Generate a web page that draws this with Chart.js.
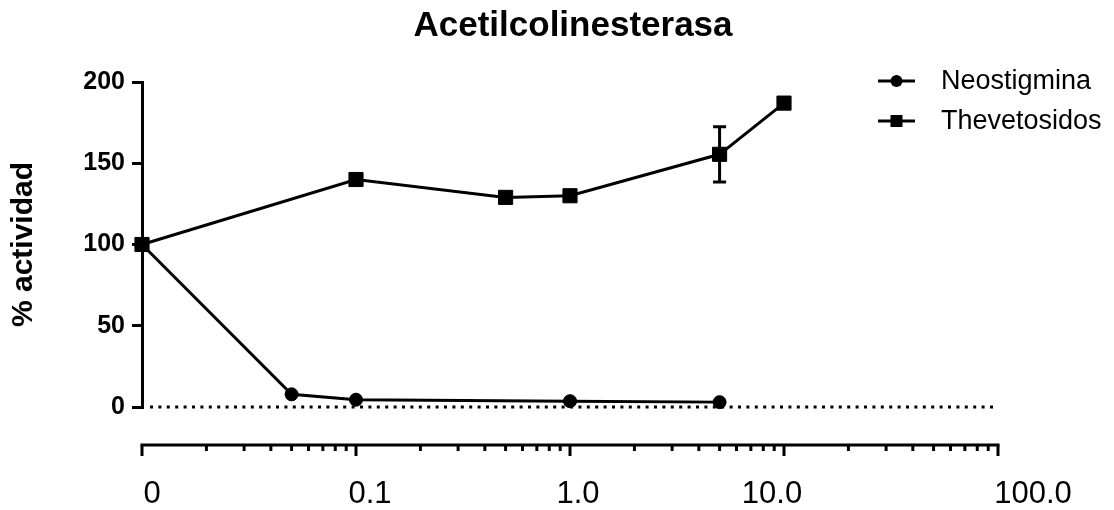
<!DOCTYPE html>
<html>
<head>
<meta charset="utf-8">
<script src="https://cdn.jsdelivr.net/npm/chart.js@4.4.1/dist/chart.umd.min.js"></script>
<style>
body { margin: 0; background: #fff; }
#wrap { width: 1114px; height: 510px; position: relative; }
</style>
</head>
<body>
<div id="wrap"><canvas id="myChart"></canvas></div>
<script>
// data
var chartTitle = 'Acetilcolinesterasa';
var yTitle = '% actividad';
var seriesNames = ['Neostigmina', 'Thevetosidos'];
var neoDose = [0.01, 0.05, 0.1, 1, 5];
var neoActividad = [100, 7.8, 4.5, 3.6, 3.0];
var theDose = [0.01, 0.1, 0.5, 1, 5, 10];
var theActividad = [100, 140, 129, 130, 155.5, 187];
var theError = [0, 0, 0, 0, 17, 0];
var xTicks = [0.01, 0.1, 1, 10, 100];
var xTickLabels = ['0', '0.1', '1.0', '10.0', '100.0'];
var yTicks = [0, 50, 100, 150, 200];

var FONT = "'Liberation Sans', Arial, sans-serif";

function toPoints(xs, ys) {
  var out = [];
  for (var i = 0; i < xs.length; i++) out.push({x: xs[i], y: ys[i]});
  return out;
}

var extras = {
  id: 'extras',
  beforeDatasetsDraw: function(chart) {
    var ctx = chart.ctx, xs = chart.scales.x, ys = chart.scales.y;
    // dotted line at y = 0
    ctx.save();
    ctx.strokeStyle = '#000';
    ctx.lineWidth = 3;
    ctx.setLineDash([3, 5.4]);
    ctx.beginPath();
    ctx.moveTo(xs.getPixelForValue(0.01) + 8, ys.getPixelForValue(0));
    ctx.lineTo(xs.getPixelForValue(100) - 2, ys.getPixelForValue(0));
    ctx.stroke();
    ctx.restore();
  },
  afterDatasetsDraw: function(chart) {
    var ctx = chart.ctx, xs = chart.scales.x, ys = chart.scales.y;
    ctx.save();
    ctx.strokeStyle = '#000';
    ctx.fillStyle = '#000';
    ctx.lineWidth = 3;

    // error bars
    for (var i = 0; i < theDose.length; i++) {
      if (!theError[i]) continue;
      var px = xs.getPixelForValue(theDose[i]);
      var top = ys.getPixelForValue(theActividad[i] + theError[i]);
      var bot = ys.getPixelForValue(theActividad[i] - theError[i]);
      ctx.beginPath();
      ctx.moveTo(px, top); ctx.lineTo(px, bot);
      ctx.moveTo(px - 6.5, top); ctx.lineTo(px + 6.5, top);
      ctx.moveTo(px - 6.5, bot); ctx.lineTo(px + 6.5, bot);
      ctx.stroke();
    }

    // detached x axis with log ticks
    var axisY = ys.getPixelForValue(0) + 38;
    var x0 = xs.getPixelForValue(0.01), x1 = xs.getPixelForValue(100);
    ctx.beginPath();
    ctx.moveTo(x0 - 1.5, axisY); ctx.lineTo(x1 + 1.5, axisY);
    ctx.stroke();
    for (var d = 0.01; d <= 100.001; d *= 10) {
      var mx = xs.getPixelForValue(d);
      ctx.beginPath(); ctx.moveTo(mx, axisY); ctx.lineTo(mx, axisY + 11); ctx.stroke();
      if (d < 99) {
        for (var m = 2; m <= 9; m++) {
          var tx = xs.getPixelForValue(d * m);
          ctx.beginPath(); ctx.moveTo(tx, axisY); ctx.lineTo(tx, axisY + 6); ctx.stroke();
        }
      }
    }

    // x tick labels (prism places them a bit irregularly)
    var labelShift = [10, 14, 8, -12, 35];
    ctx.font = '31px ' + FONT;
    ctx.textAlign = 'center';
    ctx.textBaseline = 'middle';
    for (var t = 0; t < xTicks.length; t++) {
      ctx.fillText(xTickLabels[t], xs.getPixelForValue(xTicks[t]) + labelShift[t], axisY + 49);
    }

    // title
    ctx.font = 'bold 35px ' + FONT;
    ctx.fillText(chartTitle, 573, 26);

    // legend
    ctx.font = '27px ' + FONT;
    ctx.textAlign = 'left';
    var rows = [81, 121];
    for (var k = 0; k < 2; k++) {
      var ly = rows[k];
      ctx.beginPath(); ctx.moveTo(878, ly); ctx.lineTo(915, ly); ctx.stroke();
      if (k === 0) {
        ctx.beginPath(); ctx.arc(896.5, ly, 6, 0, Math.PI * 2); ctx.fill();
      } else {
        ctx.fillRect(896.5 - 6, ly - 6, 12, 12);
      }
      ctx.fillText(seriesNames[k], 941, ly + 1);
    }
    ctx.restore();
  }
};

var chartdata = {
  datasets: [
    {
      label: seriesNames[0],
      data: toPoints(neoDose, neoActividad),
      showLine: true,
      borderColor: '#000',
      backgroundColor: '#000',
      borderWidth: 3,
      pointStyle: 'circle',
      pointRadius: 6.5,
      pointBorderWidth: 1,
      clip: false
    },
    {
      label: seriesNames[1],
      data: toPoints(theDose, theActividad),
      showLine: true,
      borderColor: '#000',
      backgroundColor: '#000',
      borderWidth: 3,
      pointStyle: 'rect',
      pointRadius: 10,
      pointBorderWidth: 1,
      clip: false
    }
  ]
};

var options = {
  responsive: true,
  maintainAspectRatio: false,
  animation: false,
  layout: { padding: { top: 82, right: 116, left: 0, bottom: 0 } },
  plugins: {
    legend: { display: false },
    title: { display: false },
    tooltip: { enabled: false }
  },
  scales: {
    x: {
      type: 'logarithmic',
      min: 0.01,
      max: 100,
      afterBuildTicks: function(scale) {
        scale.ticks = xTicks.map(function(v) { return {value: v}; });
      },
      afterFit: function(scale) { scale.height = 103; },
      grid: { display: false, drawTicks: false },
      border: { display: false },
      ticks: { display: false }
    },
    y: {
      min: 0,
      max: 200,
      afterBuildTicks: function(scale) {
        scale.ticks = yTicks.map(function(v) { return {value: v}; });
      },
      afterFit: function(scale) { scale.width = 142; },
      grid: { drawOnChartArea: false, drawTicks: true, tickLength: 10, color: '#000', lineWidth: 3 },
      border: { display: true, color: '#000', width: 3 },
      ticks: {
        padding: 7,
        color: '#000',
        font: { family: FONT, size: 25, weight: 'bold' }
      },
      title: {
        display: true,
        text: yTitle,
        color: '#000',
        padding: { top: 6, bottom: 0 },
        font: { family: FONT, size: 30, weight: 'bold' }
      }
    }
  }
};

var graph = new Chart(document.getElementById('myChart'), {
  type: 'scatter',
  data: chartdata,
  options: options,
  plugins: [extras]
});
</script>
</body>
</html>
